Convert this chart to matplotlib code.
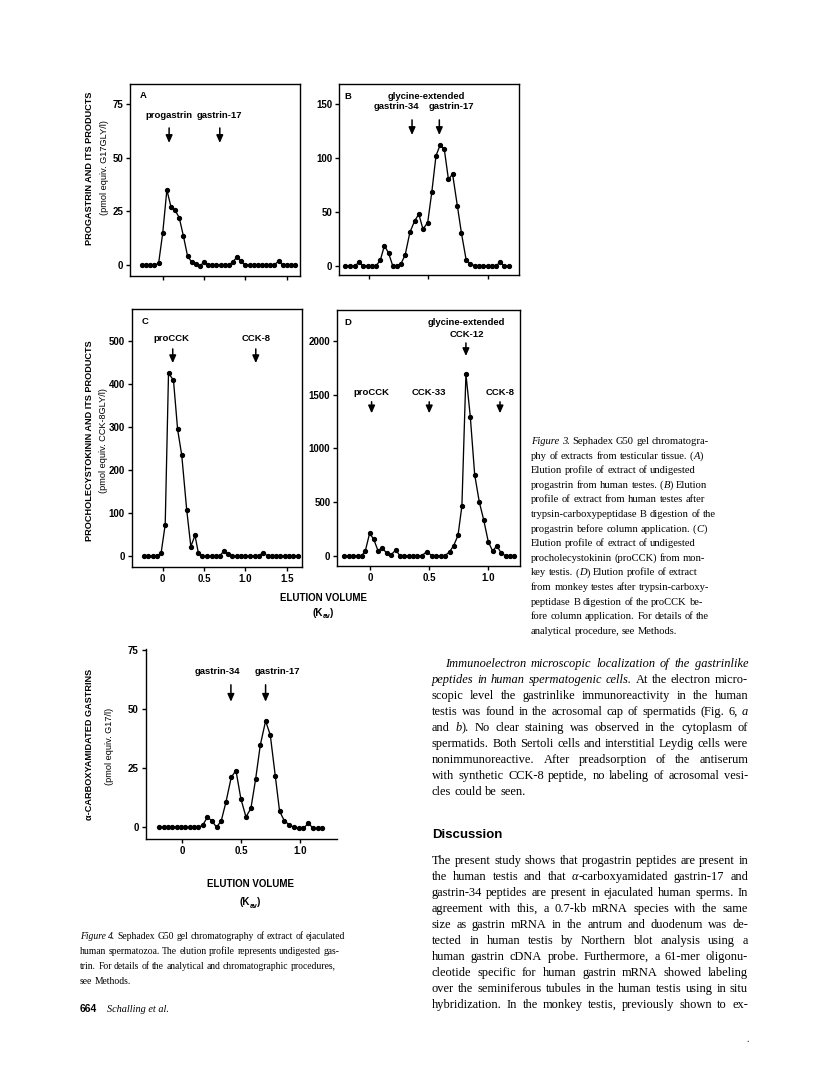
import matplotlib
matplotlib.use('Agg')
import matplotlib.pyplot as plt
from matplotlib import font_manager

# ---------------- data ----------------
# Panel A: progastrin (pmol equiv. G17GLY/l)
kav_a = [-0.25, -0.20, -0.15, -0.10, -0.05, 0.00, 0.05, 0.10, 0.15, 0.20, 0.25, 0.30, 0.35,
         0.40, 0.45, 0.50, 0.55, 0.60, 0.65, 0.70, 0.75, 0.80, 0.85, 0.90, 0.95, 1.00, 1.05,
         1.10, 1.15, 1.20, 1.25, 1.30, 1.35, 1.40, 1.45, 1.50, 1.55, 1.60]
val_a = [0, 0, 0, 0, 0.8, 15, 35, 27, 25.5, 22, 13.5, 4.2, 1.4,
         0.3, -0.6, 1.6, 0, 0, 0, 0, 0, 0, 1.6, 3.8, 1.8, 0, 0,
         0, 0, 0, 0, 0, 0, 1.9, 0, 0, 0, 0]

# Panel B: after trypsin-carboxypeptidase B digestion
kav_b = [-0.20, -0.16, -0.12, -0.085, -0.05, -0.01, 0.025, 0.06, 0.095, 0.13, 0.165, 0.20,
         0.24, 0.27, 0.305, 0.345, 0.385, 0.42, 0.455, 0.495, 0.53, 0.565, 0.60, 0.635,
         0.67, 0.705, 0.745, 0.78, 0.82, 0.855, 0.89, 0.925, 0.965, 1.00, 1.035, 1.07,
         1.105, 1.14, 1.18]
val_b = [0, 0, 0, 3, 0, 0, 0, 0, 5, 18.6, 11.8, 0,
         0, 2, 10, 31, 41.6, 47.8, 34, 40, 68.6, 102, 112, 108,
         80, 85, 55.6, 30, 5, 2, 0, 0, 0, 0, 0, 0,
         3, 0, 0]

# Panel C: procholecystokinin (pmol equiv. CCK-8GLY/l)
kav_c = [-0.23, -0.18, -0.12, -0.07, -0.02, 0.03, 0.07, 0.13, 0.18, 0.23, 0.29, 0.34, 0.39,
         0.43, 0.48, 0.53, 0.59, 0.64, 0.69, 0.74, 0.79, 0.84, 0.90, 0.95, 1.00, 1.06, 1.11,
         1.16, 1.21, 1.27, 1.32, 1.37, 1.42, 1.48, 1.53, 1.58, 1.63]
val_c = [0, 0, 0, 0, 6, 73, 425, 408, 294, 234, 107, 22, 48,
         8, 0, 0, 0, 0, 0, 12, 4, 0, 0, 0, 0, 0, 0,
         0, 8, 0, 0, 0, 0, 0, 0, 0, 0]

# Panel D: after trypsin-carboxypeptidase B digestion of proCCK
kav_d = [-0.217, -0.177, -0.141, -0.104, -0.07, -0.039, -0.003, 0.031, 0.068, 0.104, 0.141,
         0.177, 0.217, 0.254, 0.29, 0.327, 0.363, 0.40, 0.437, 0.48, 0.524, 0.561, 0.597,
         0.634, 0.673, 0.707, 0.744, 0.777, 0.811, 0.848, 0.885, 0.924, 0.961, 1.00, 1.037,
         1.073, 1.11, 1.146, 1.183, 1.22]
val_d = [0, 0, 0, 0, 0, 47, 208, 155, 47, 75, 22,
         6, 53, 0, 0, 0, 0, 0, 0, 37, 0, 0, 0,
         0, 37, 93, 189, 463, 1692, 1295, 755, 500, 335, 130, 43,
         93, 22, 0, 0, 0]

# Figure 4: alpha-carboxyamidated gastrins (pmol equiv. G17/l)
kav_e = [-0.196, -0.159, -0.125, -0.088, -0.048, -0.011, 0.026, 0.062, 0.099, 0.136, 0.173,
         0.213, 0.252, 0.292, 0.332, 0.372, 0.417, 0.457, 0.499, 0.542, 0.584, 0.624, 0.664,
         0.709, 0.749, 0.791, 0.828, 0.868, 0.911, 0.95, 0.99, 1.03, 1.072, 1.112, 1.155, 1.19]
val_e = [0, 0, 0, 0, 0, 0, 0, 0, 0, 0, 0.8,
         4.2, 2.8, 0, 2.8, 10.7, 21.2, 24, 12, 4.4, 8, 20.3, 34.8,
         45, 39, 21.9, 6.8, 2.8, 1, 0, -0.5, -0.5, 1.7, -0.3, -0.5, -0.5]

xt_ac = [0, 0.5, 1.0, 1.5]
xt_ac_lab = ['0', '0.5', '1.0', '1.5']
xt_bd = [0, 0.5, 1.0]
xt_bd_lab = ['0', '0.5', '1.0']
yt_a = [0, 25, 50, 75]
yt_b = [0, 50, 100, 150]
yt_c = [0, 100, 200, 300, 400, 500]
yt_d = [0, 500, 1000, 1500, 2000]
yt_e = [0, 25, 50, 75]

# ---------------- figure ----------------
W, H = 816, 1074
fig = plt.figure(figsize=(W / 100, H / 100), dpi=100)
fig.patch.set_facecolor('white')
renderer = fig.canvas.get_renderer()

names = {f.name for f in font_manager.fontManager.ttflist}
SANS = 'Liberation Sans Narrow' if 'Liberation Sans Narrow' in names else 'Liberation Sans'
SERIF = 'Liberation Serif'


def ax_px(l, t, r, b):
    return fig.add_axes([l / W, 1 - b / H, (r - l) / W, (b - t) / H])


def style_ax(ax, xlim, ylim, xt, xtl, yt, box=True, tick_fs=7):
    ax.set_xlim(*xlim)
    ax.set_ylim(*ylim)
    ax.set_xticks(xt)
    ax.set_xticklabels(xtl)
    ax.set_yticks(yt)
    ax.set_yticklabels([str(v) for v in yt])
    ax.tick_params(direction='out', length=3, width=1, labelsize=tick_fs, pad=2,
                   colors='black')
    for lab in ax.get_xticklabels() + ax.get_yticklabels():
        lab.set_fontweight('bold')
        lab.set_family(SANS)
    for s in ax.spines.values():
        s.set_linewidth(1.0)
    if not box:
        ax.spines['top'].set_visible(False)
        ax.spines['right'].set_visible(False)
    ax.patch.set_alpha(0)


def curve(ax, x, y):
    ax.plot(x, y, '-', color='black', lw=0.95, marker='o', ms=2.8,
            mfc='black', mec='black', clip_on=False)


LAB_FS = 6.8


def label(ax, x, yfrac, s, fs=LAB_FS):
    ax.text(x, yfrac, s, transform=ax.get_xaxis_transform(), ha='center', va='center',
            fontsize=fs, fontweight='bold', family=SANS)


def arrow(ax, x, y0, y1):
    ax.annotate('', xy=(x, y1), xytext=(x, y0), xycoords=ax.get_xaxis_transform(),
                textcoords=ax.get_xaxis_transform(),
                arrowprops=dict(arrowstyle='-|>,head_length=0.45,head_width=0.2',
                                color='black', lw=1.1, shrinkA=0, shrinkB=0,
                                mutation_scale=10))


def panel_letter(ax, xf, yf, s):
    ax.text(xf, yf, s, transform=ax.transAxes, ha='center', va='center',
            fontsize=LAB_FS, fontweight='bold', family=SANS)


# Panel A
axA = ax_px(130, 84, 300, 276)
curve(axA, kav_a, val_a)
style_ax(axA, (-0.396, 1.66), (-5.1, 84.3), xt_ac, ['', '', '', ''], yt_a)
panel_letter(axA, 0.076, 0.939, 'A')
label(axA, 0.077, 0.835, 'progastrin')
label(axA, 0.69, 0.835, 'gastrin-17')
arrow(axA, 0.077, 0.771, 0.693)
arrow(axA, 0.69, 0.771, 0.693)

# Panel B
axB = ax_px(339, 84, 519, 275)
curve(axB, kav_b, val_b)
style_ax(axB, (-0.253, 1.265), (-8.6, 168.5), xt_bd, ['', '', ''], yt_b)
panel_letter(axB, 0.05, 0.937, 'B')
label(axB, 0.487, 0.937, 'glycine-extended')
label(axB, 0.234, 0.881, 'gastrin-34')
label(axB, 0.697, 0.881, 'gastrin-17')
arrow(axB, 0.363, 0.812, 0.733)
arrow(axB, 0.593, 0.812, 0.733)

# Panel C
axC = ax_px(131.7, 309, 301.7, 566.7)
curve(axC, kav_c, val_c)
style_ax(axC, (-0.375, 1.68), (-24.8, 573.6), xt_ac, xt_ac_lab, yt_c)
panel_letter(axC, 0.078, 0.951, 'C')
label(axC, 0.108, 0.886, 'proCCK')
label(axC, 1.125, 0.886, 'CCK-8')
arrow(axC, 0.121, 0.845, 0.79)
arrow(axC, 1.125, 0.845, 0.79)

# Panel D
axD = ax_px(337.3, 310, 520, 565.7)
curve(axD, kav_d, val_d)
style_ax(axD, (-0.276, 1.268), (-93, 2289), xt_bd, xt_bd_lab, yt_d)
panel_letter(axD, 0.06, 0.951, 'D')
label(axD, 0.817, 0.951, 'glycine-extended')
label(axD, 0.817, 0.905, 'CCK-12')
arrow(axD, 0.811, 0.871, 0.82)
label(axD, 0.014, 0.677, 'proCCK')
label(axD, 0.501, 0.677, 'CCK-33')
label(axD, 1.099, 0.677, 'CCK-8')
for xa in (0.014, 0.501, 1.099):
    arrow(axD, xa, 0.641, 0.596)

# Figure 4
axE = ax_px(145.7, 649.3, 336.7, 839.3)
curve(axE, kav_e, val_e)
style_ax(axE, (-0.311, 1.314), (-5.08, 75.3), xt_bd, xt_bd_lab, yt_e, box=False)
label(axE, 0.30, 0.882, 'gastrin-34')
label(axE, 0.808, 0.882, 'gastrin-17')
arrow(axE, 0.414, 0.813, 0.724)
arrow(axE, 0.709, 0.813, 0.724)


# ---------------- helpers for page text ----------------
def ftext(x, y, s, **kw):
    return fig.text(x / W, 1 - y / H, s, **kw)


def ylab(x, y, s, bold=True, fs=6.6):
    ftext(x, y, s, rotation=90, ha='center', va='center', fontsize=fs,
          fontweight='bold' if bold else 'normal', family=SANS)


ylab(90, 168, 'PROGASTRIN AND ITS PRODUCTS')
ylab(105, 168, '(pmol equiv. G17GLY/l)', bold=False)
ylab(90, 441, 'PROCHOLECYSTOKININ AND ITS PRODUCTS')
ylab(104, 441, '(pmol equiv. CCK-8GLY/l)', bold=False)
ylab(90, 744, '\u03b1-CARBOXYAMIDATED GASTRINS')
ylab(109, 746, '(pmol equiv. G17/l)', bold=False)


def kav_label(xc, y, fs=7.0):
    parts = [('(K', fs, 0), ('av', fs * 0.72, 2.5), (')', fs, 0)]
    ts = []
    for s, f, dy in parts:
        t = ftext(0, y + dy, s, ha='left', va='baseline', fontsize=f,
                  fontweight='bold', family=SANS)
        ts.append((t, t.get_window_extent(renderer).width, dy))
    total = sum(w for _, w, _ in ts) - 1
    x = xc - total / 2
    for t, w, dy in ts:
        t.set_position((x / W, 1 - (y + dy) / H))
        x += w - 0.5


ftext(323, 601, 'ELUTION VOLUME', ha='center', va='baseline', fontsize=7,
      fontweight='bold', family=SANS)
kav_label(323, 616)
ftext(250, 887, 'ELUTION VOLUME', ha='center', va='baseline', fontsize=7,
      fontweight='bold', family=SANS)
kav_label(250, 905)


def parse(line):
    words, word, cur, ital = [], [], '', False
    for ch in line:
        if ch == '_':
            if cur:
                word.append((cur, ital))
                cur = ''
            ital = not ital
        elif ch == ' ':
            if cur:
                word.append((cur, ital))
                cur = ''
            if word:
                words.append(word)
                word = []
        else:
            cur += ch
    if cur:
        word.append((cur, ital))
    if word:
        words.append(word)
    return words


def make_words(line, fs, family):
    out = []
    for word in parse(line):
        runs = []
        for s, it in word:
            t = ftext(0, 0, s, ha='left', va='baseline', fontsize=fs, family=family,
                      style='italic' if it else 'normal')
            runs.append((t, t.get_window_extent(renderer).width))
        out.append(runs)
    return out


def space_w(fs, family):
    a = ftext(0, 0, 'n n', fontsize=fs, family=family)
    b = ftext(0, 0, 'nn', fontsize=fs, family=family)
    w = a.get_window_extent(renderer).width - b.get_window_extent(renderer).width
    a.remove()
    b.remove()
    return w


def natural_width(line, fs, family):
    ws = make_words(line, fs, family)
    tot = sum(w for runs in ws for _, w in runs)
    for runs in ws:
        for t, _ in runs:
            t.remove()
    return tot + space_w(fs, family) * (len(ws) - 1)


def draw_line(x, y, line, fs, family, width=None):
    ws = make_words(line, fs, family)
    wlens = [sum(w for _, w in runs) for runs in ws]
    sp = space_w(fs, family)
    if width is not None and len(ws) > 1:
        sp = (width - sum(wlens)) / (len(ws) - 1)
    xx = x
    for runs, wl in zip(ws, wlens):
        xr = xx
        for t, w in runs:
            t.set_position((xr / W, 1 - y / H))
            xr += w
        xx += wl + sp


# ---------------- Figure 3 caption ----------------
cap3 = [
    '_Figure 3._ Sephadex G50 gel chromatogra-',
    'phy of extracts from testicular tissue. (_A_)',
    'Elution profile of extract of undigested',
    'progastrin from human testes. (_B_) Elution',
    'profile of extract from human testes after',
    'trypsin-carboxypeptidase B digestion of the',
    'progastrin before column application. (_C_)',
    'Elution profile of extract of undigested',
    'procholecystokinin (proCCK) from mon-',
    'key testis. (_D_) Elution profile of extract',
    'from monkey testes after trypsin-carboxy-',
    'peptidase B digestion of the proCCK be-',
    'fore column application. For details of the',
    'analytical procedure, see Methods.',
]
fs3 = 7.5 * 176 / natural_width(cap3[12], 7.5, SERIF)
for i, ln in enumerate(cap3):
    draw_line(531, 444 + i * 14.6, ln, fs3, SERIF)

# ---------------- Figure 4 caption ----------------
cap4 = [
    '_Figure 4._ Sephadex G50 gel chromatography of extract of ejaculated',
    'human spermatozoa. The elution profile represents undigested gas-',
    'trin. For details of the analytical and chromatographic procedures,',
    'see Methods.',
]
fs4 = 7.5 * 265 / natural_width(cap4[0], 7.5, SERIF)
for i, ln in enumerate(cap4):
    draw_line(80, 939 + i * 15, ln, fs4, SERIF)

# ---------------- body text ----------------
para1 = [
    '_Immunoelectron microscopic localization of the gastrinlike_',
    '_peptides in human spermatogenic cells._ At the electron micro-',
    'scopic level the gastrinlike immunoreactivity in the human',
    'testis was found in the acrosomal cap of spermatids (Fig. 6, _a_',
    'and _b_). No clear staining was observed in the cytoplasm of',
    'spermatids. Both Sertoli cells and interstitial Leydig cells were',
    'nonimmunoreactive. After preadsorption of the antiserum',
    'with synthetic CCK-8 peptide, no labeling of acrosomal vesi-',
    'cles could be seen.',
]
para2 = [
    'The present study shows that progastrin peptides are present in',
    'the human testis and that _\u03b1_-carboxyamidated gastrin-17 and',
    'gastrin-34 peptides are present in ejaculated human sperms. In',
    'agreement with this, a 0.7-kb mRNA species with the same',
    'size as gastrin mRNA in the antrum and duodenum was de-',
    'tected in human testis by Northern blot analysis using a',
    'human gastrin cDNA probe. Furthermore, a 61-mer oligonu-',
    'cleotide specific for human gastrin mRNA showed labeling',
    'over the seminiferous tubules in the human testis using in situ',
    'hybridization. In the monkey testis, previously shown to ex-',
]
XL, XR = 432, 748
fsb = 8.5 * 312 / natural_width(para2[0], 8.5, SERIF)
for i, ln in enumerate(para1):
    if i == 0:
        draw_line(XL + 13, 667 + i * 16, ln, fsb, SERIF, width=XR - XL - 13)
    elif i == len(para1) - 1:
        draw_line(XL, 667 + i * 16, ln, fsb, SERIF)
    else:
        draw_line(XL, 667 + i * 16, ln, fsb, SERIF, width=XR - XL)

ftext(XL, 838, 'Discussion', ha='left', va='baseline', fontsize=9.5,
      fontweight='bold', family='Liberation Sans')

for i, ln in enumerate(para2):
    draw_line(XL, 864 + i * 16, ln, fsb, SERIF, width=XR - XL)

# footer
ftext(80, 1012, '664', ha='left', va='baseline', fontsize=7.5, fontweight='bold',
      family='Liberation Sans')
ftext(107, 1012, 'Schalling et al.', ha='left', va='baseline', fontsize=fs4 + 0.5,
      style='italic', family=SERIF)
ftext(748, 1042, '.', ha='center', va='baseline', fontsize=7, family=SERIF)

fig.savefig('out.png', dpi=100, facecolor='white')
